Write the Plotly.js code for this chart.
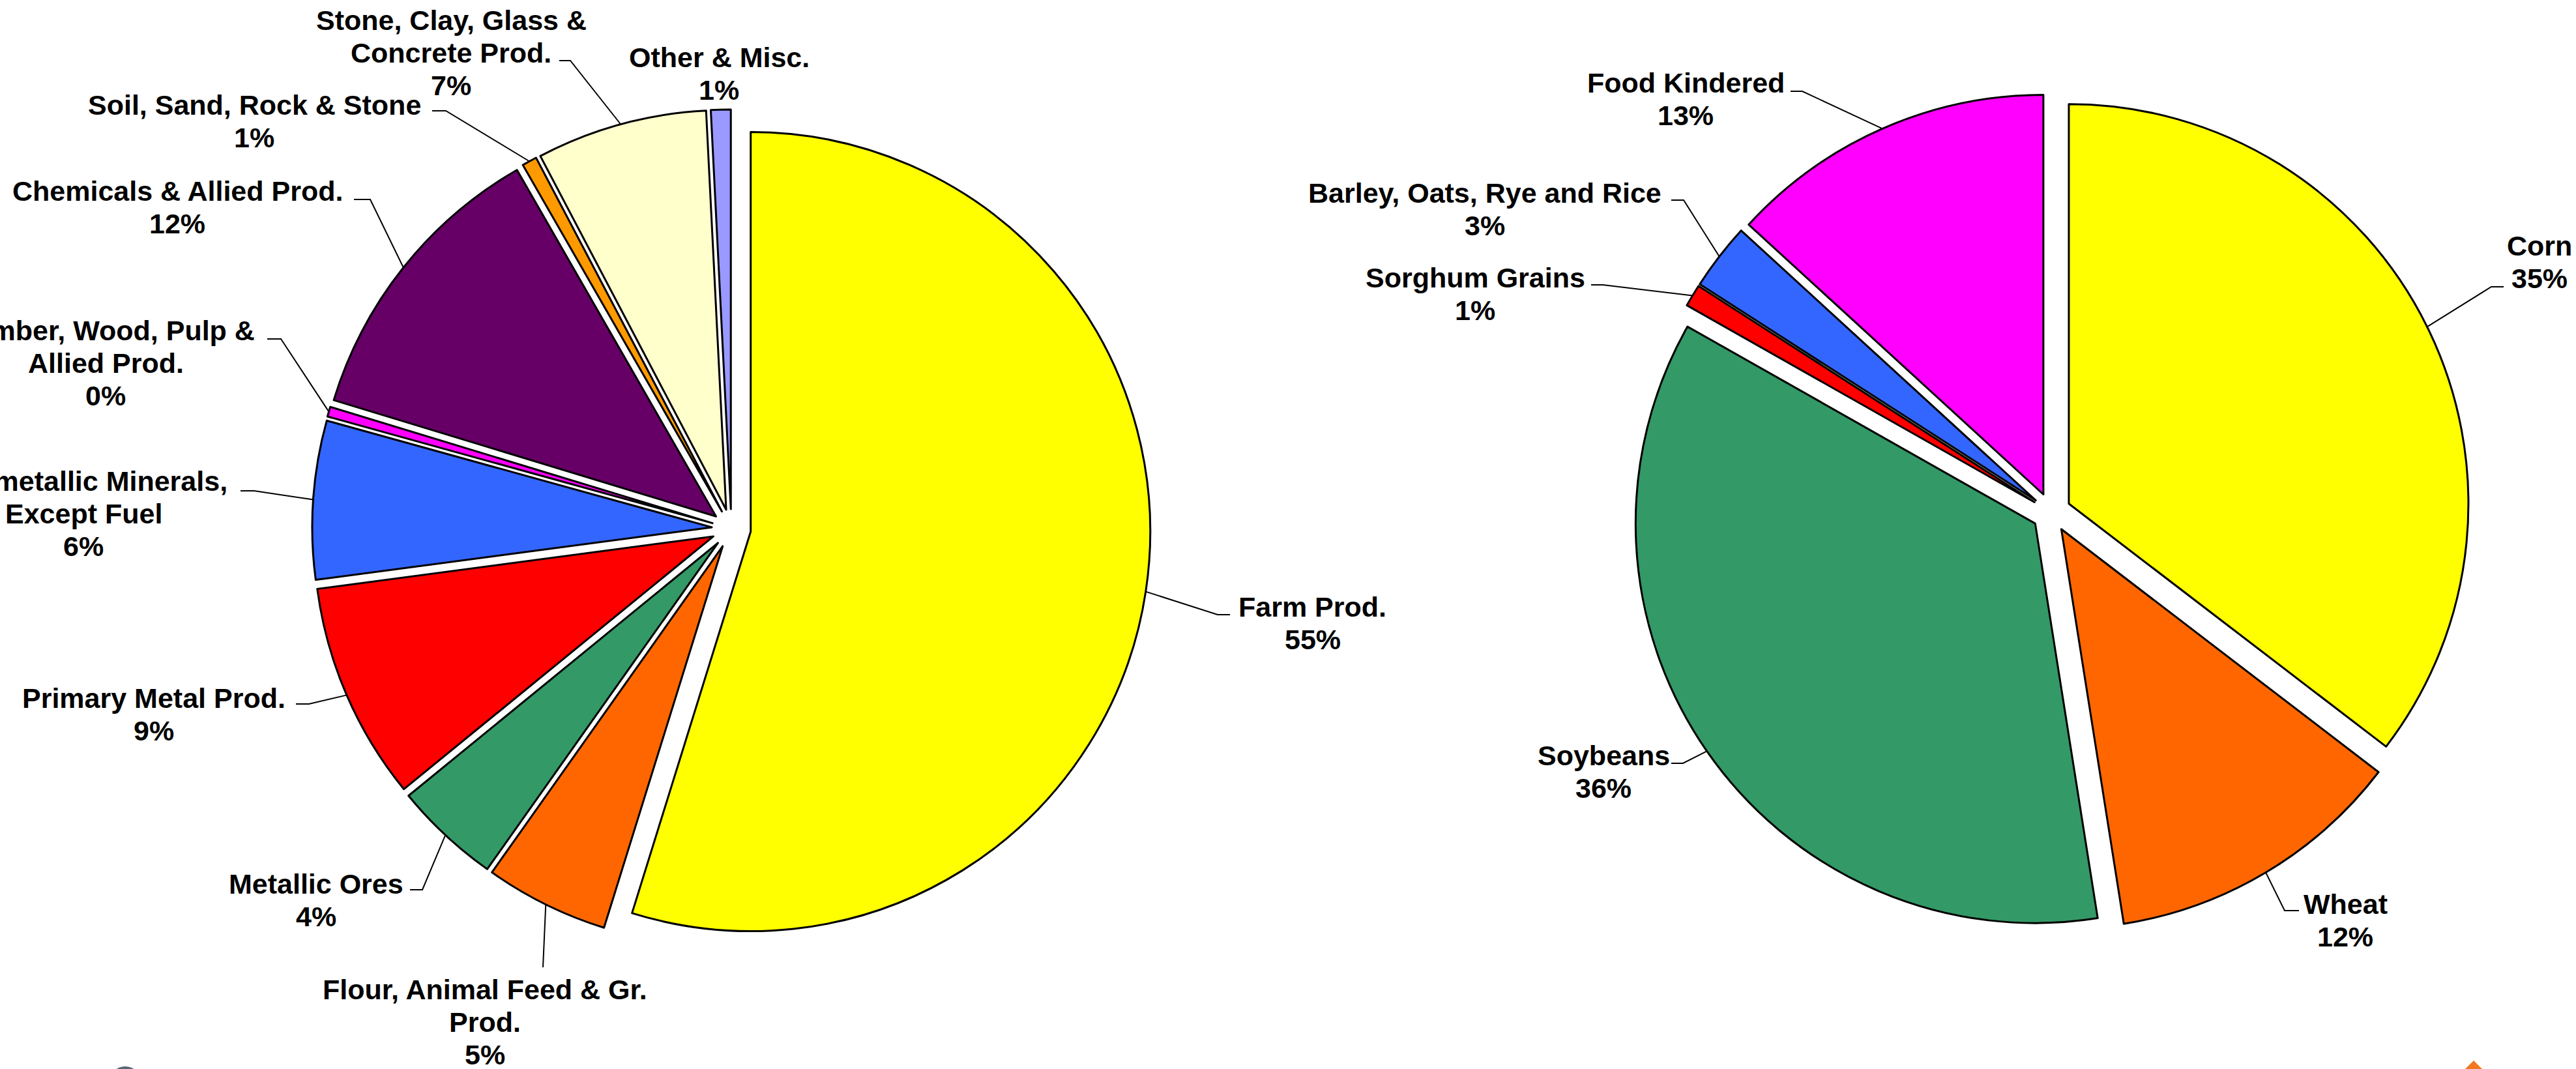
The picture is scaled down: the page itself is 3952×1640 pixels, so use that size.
<!DOCTYPE html>
<html>
<head>
<meta charset="utf-8">
<script src="https://cdn.plot.ly/plotly-3.0.1.min.js"></script>
<style>
html, body { margin: 0; padding: 0; background: #ffffff; }
#chart { width: 3952px; height: 1640px; }
</style>
</head>
<body>
<div id="chart"></div>
<script>
// ---------------- DATA ----------------
// Left pie: commodity groups (share of tonnage)
const leftCategories = [
  "Farm Prod.",
  "Flour, Animal Feed & Gr.<br>Prod.",
  "Metallic Ores",
  "Primary Metal Prod.",
  "Nonmetallic Minerals,<br>Except Fuel",
  "Lumber, Wood, Pulp &<br>Allied Prod.",
  "Chemicals & Allied Prod.",
  "Soil, Sand, Rock & Stone",
  "Stone, Clay, Glass &<br>Concrete Prod.",
  "Other & Misc."
];
const leftValues = [54.8, 5.0, 4.3, 8.8, 6.4, 0.4, 12.0, 0.6, 6.9, 0.8];
const leftColors = ["#FFFF00", "#FF6600", "#339966", "#FF0000", "#3366FF",
                    "#FF00FF", "#660066", "#FF9900", "#FFFFCC", "#9999FF"];

// Right pie: farm products breakdown
const rightCategories = [
  "Corn",
  "Wheat",
  "Soybeans",
  "Sorghum Grains",
  "Barley, Oats, Rye and Rice",
  "Food Kindered"
];
const rightValues = [35.4, 12.1, 35.7, 0.9, 2.7, 13.2];
const rightColors = ["#FFFF00", "#FF6600", "#339966", "#FF0000", "#3366FF", "#FF00FF"];

// ---------------- LAYOUT CONFIG (pixels) ----------------
const W = 3952, H = 1640;
const PULL = 0.049;
const RADIUS = 613;
const leftGeom = { cx: 1122, cy: 811 };
const rightGeom = { cx: 3147, cy: 786 };

// label text block position [centre x, first line centre y], leader elbow [x,y], tick end x
const leftLabelPos = [
  { t: [2014, 931],  e: [1868, 943],  k: 1887 },
  { t: [744, 1518],  e: [833, 1484],  k: null },
  { t: [485, 1356],  e: [648, 1365],  k: 629 },
  { t: [236, 1071],  e: [474, 1080],  k: 454 },
  { t: [128, 738],   e: [390, 753],   k: 369 },
  { t: [162, 507],   e: [431, 520],   k: 410 },
  { t: [272, 293],   e: [568, 306],   k: 543 },
  { t: [390, 161],   e: [684, 170],   k: 663 },
  { t: [692, 31],    e: [875, 93],    k: 858 },
  { t: [1103, 88],   e: null,         k: null }
];
const rightLabelPos = [
  { t: [3896, 377],  e: [3822, 440],  k: 3841 },
  { t: [3598, 1387], e: [3505, 1397], k: 3527 },
  { t: [2460, 1159], e: [2582, 1171], k: 2564 },
  { t: [2263, 426],  e: [2459, 437],  k: 2441 },
  { t: [2278, 296],  e: [2583, 307],  k: 2564 },
  { t: [2586, 127],  e: [2765, 140],  k: 2747 }
];
const LINE_H = 50;
const FONT = { family: "Liberation Sans, Arial, sans-serif", size: 43, color: "#000000" };

// ---------------- BUILD ----------------
const px = x => x / W;
const py = y => 1 - y / H;

function domainFor(g) {
  const half = RADIUS * (1 + PULL);
  return {
    x: [px(g.cx - half), px(g.cx + half)],
    y: [py(g.cy + half), py(g.cy - half)]
  };
}

function pieTrace(cats, vals, cols, g) {
  return {
    type: "pie",
    labels: cats,
    values: vals,
    sort: false,
    direction: "clockwise",
    rotation: 0,
    pull: vals.map(() => PULL),
    marker: { colors: cols, line: { color: "#000000", width: 3 } },
    textinfo: "none",
    hoverinfo: "label+percent",
    domain: domainFor(g),
    showlegend: false
  };
}

const annotations = [];
const shapes = [];

function addLabels(cats, vals, g, pos) {
  const total = vals.reduce((a, b) => a + b, 0);
  let cum = 0;
  const rr = RADIUS * (1 + PULL);
  vals.forEach((v, i) => {
    const mid = (cum + v / 2) / total * 2 * Math.PI;
    cum += v;
    const ax = g.cx + rr * Math.sin(mid);
    const ay = g.cy - rr * Math.cos(mid);
    const p = pos[i];
    const lines = cats[i].split("<br>").concat([Math.round(100 * v / total) + "%"]);
    lines.forEach((ln, j) => {
      annotations.push({
        xref: "paper", yref: "paper",
        x: px(p.t[0]), y: py(p.t[1] + j * LINE_H),
        xanchor: "center", yanchor: "middle",
        text: "<b>" + ln + "</b>",
        showarrow: false,
        font: FONT
      });
    });
    if (p.e) {
      let d = "M" + px(ax) + "," + py(ay) + " L" + px(p.e[0]) + "," + py(p.e[1]);
      if (p.k !== null) d += " L" + px(p.k) + "," + py(p.e[1]);
      shapes.push({
        type: "path", xref: "paper", yref: "paper", path: d,
        line: { color: "#000000", width: 2 }, layer: "above"
      });
    }
  });
}

addLabels(leftCategories, leftValues, leftGeom, leftLabelPos);
addLabels(rightCategories, rightValues, rightGeom, rightLabelPos);

// slide decorations peeking in at the bottom edge
shapes.push({
  type: "circle", xref: "paper", yref: "paper",
  x0: px(168), x1: px(216), y0: py(1684), y1: py(1636),
  fillcolor: "#5B6477", line: { width: 0 }
});
shapes.push({
  type: "path", xref: "paper", yref: "paper",
  path: "M" + px(3795) + "," + py(1627) + " L" + px(3822) + "," + py(1654) +
        " L" + px(3768) + "," + py(1654) + " Z",
  fillcolor: "#F07820", line: { width: 0 }
});

const layout = {
  width: W, height: H,
  margin: { l: 0, r: 0, t: 0, b: 0, pad: 0 },
  paper_bgcolor: "#ffffff",
  plot_bgcolor: "#ffffff",
  showlegend: false,
  annotations: annotations,
  shapes: shapes
};

Plotly.newPlot("chart", [
  pieTrace(leftCategories, leftValues, leftColors, leftGeom),
  pieTrace(rightCategories, rightValues, rightColors, rightGeom)
], layout, { displayModeBar: false, staticPlot: true });
</script>
</body>
</html>
